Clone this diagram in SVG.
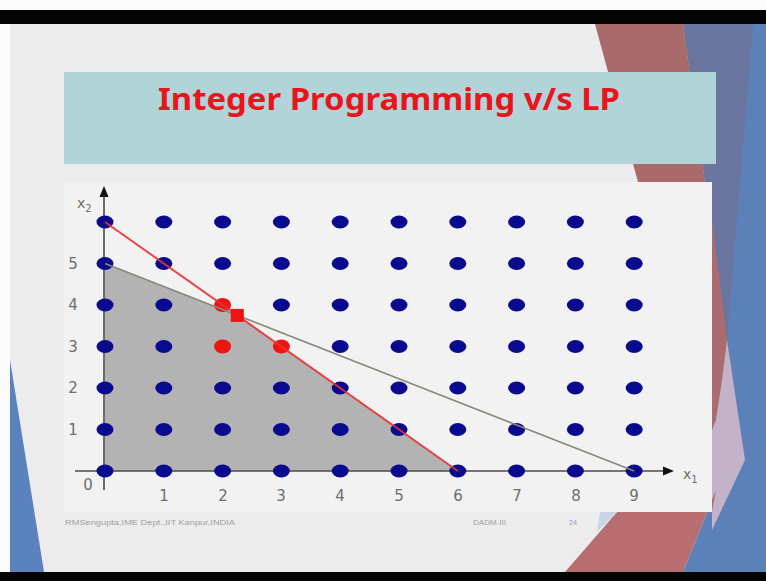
<svg xmlns="http://www.w3.org/2000/svg" width="766" height="581" viewBox="0 0 766 581">
<style>
.tick{font-family:"DejaVu Sans","Liberation Sans",sans-serif;font-size:15px;fill:#6e6e6e;text-anchor:middle}
.axlab{font-family:"DejaVu Sans","Liberation Sans",sans-serif;fill:#6e6e6e}
.foot{font-family:"Liberation Sans",Arial,sans-serif;font-size:7px;fill:#a0a0a0}
.title{font-family:"Noto Sans","Open Sans",sans-serif;font-weight:bold;font-size:31px;fill:#e8161c;text-anchor:middle}
.axis{stroke:#4a4a4a;stroke-width:1.6;fill:none}
</style>
<defs>
<ellipse id="dot" cx="0" cy="0" rx="8.5" ry="6.5" fill="#0a0a8e"/>
<ellipse id="rdot" cx="0" cy="0" rx="8.5" ry="7" fill="#ee1414"/>
</defs>
<rect x="0" y="0" width="766" height="581" fill="#fbfbfb"/>
<rect x="0" y="10" width="766" height="14" fill="#050505"/>
<rect x="10" y="24" width="756" height="548" fill="#ececec"/>
<rect x="0" y="572" width="766" height="9" fill="#050505"/>
<g id="decor">
<polygon points="683,24 766,24 766,572 683,572 712,500 712,182 705,182" fill="#5b81b8"/>
<polygon points="683,24 753,24 727,340 712,222 712,182 705,182" fill="#6a76a0"/>
<polygon points="595,24 683,24 705,182 638,182" fill="#a86a6a"/>
<polygon points="712,222 727,340 722,380 716,420 712,430" fill="#ad6b70"/>
<polygon points="727,340 745,460 712,530 712,430 716,420 722,380" fill="#c4b3c8"/>
<polygon points="565,572 617,512 712,512 716,490 683,572" fill="#b86e70"/>
<polygon points="600,512 617,512 597,532" fill="#c9d5e5"/>
<polygon points="10,360 10,572 44,572" fill="#5a82bc"/>
</g>
<rect x="64" y="182" width="648" height="330" fill="#f2f2f2"/>
<g id="title-box">
<rect x="64" y="72" width="652" height="92" fill="#b1d4d9"/>
<text class="title" x="389" y="110" textLength="462" lengthAdjust="spacingAndGlyphs">Integer Programming v/s LP</text>
</g>
<g id="feasible-region">
<polygon points="105,471 105,263.5 237.3,315.4 457.8,471" fill="#b3b3b3"/>
</g>
<g id="axes">
<line class="axis" x1="104" y1="490" x2="104" y2="194"/>
<polygon points="104,186 99.5,197 108.5,197" fill="#111"/>
<line class="axis" x1="75" y1="471" x2="664" y2="471"/>
<polygon points="674,471 663,466.5 663,475.5" fill="#111"/>
<text class="axlab" x="77" y="208" font-size="14">x<tspan font-size="10" dy="4">2</tspan></text>
<text class="axlab" x="683" y="479" font-size="14">x<tspan font-size="10" dy="4">1</tspan></text>
</g>
<g id="tick-labels">
<text class="tick" x="88" y="490">0</text>
<text class="tick" x="73" y="435">1</text>
<text class="tick" x="73" y="393">2</text>
<text class="tick" x="73" y="352">3</text>
<text class="tick" x="73" y="310">4</text>
<text class="tick" x="73" y="269">5</text>
<text class="tick" x="164" y="501">1</text>
<text class="tick" x="223" y="501">2</text>
<text class="tick" x="281" y="501">3</text>
<text class="tick" x="340" y="501">4</text>
<text class="tick" x="399" y="501">5</text>
<text class="tick" x="458" y="501">6</text>
<text class="tick" x="517" y="501">7</text>
<text class="tick" x="576" y="501">8</text>
<text class="tick" x="634" y="501">9</text>
</g>
<g id="lattice">
<use href="#dot" x="105" y="471"/><use href="#dot" x="163.8" y="471"/><use href="#dot" x="222.6" y="471"/><use href="#dot" x="281.4" y="471"/><use href="#dot" x="340.2" y="471"/><use href="#dot" x="399" y="471"/><use href="#dot" x="457.8" y="471"/><use href="#dot" x="516.6" y="471"/><use href="#dot" x="575.4" y="471"/><use href="#dot" x="634.2" y="471"/>
<use href="#dot" x="105" y="429.5"/><use href="#dot" x="163.8" y="429.5"/><use href="#dot" x="222.6" y="429.5"/><use href="#dot" x="281.4" y="429.5"/><use href="#dot" x="340.2" y="429.5"/><use href="#dot" x="399" y="429.5"/><use href="#dot" x="457.8" y="429.5"/><use href="#dot" x="516.6" y="429.5"/><use href="#dot" x="575.4" y="429.5"/><use href="#dot" x="634.2" y="429.5"/>
<use href="#dot" x="105" y="388"/><use href="#dot" x="163.8" y="388"/><use href="#dot" x="222.6" y="388"/><use href="#dot" x="281.4" y="388"/><use href="#dot" x="340.2" y="388"/><use href="#dot" x="399" y="388"/><use href="#dot" x="457.8" y="388"/><use href="#dot" x="516.6" y="388"/><use href="#dot" x="575.4" y="388"/><use href="#dot" x="634.2" y="388"/>
<use href="#dot" x="105" y="346.5"/><use href="#dot" x="163.8" y="346.5"/><use href="#rdot" x="222.6" y="346.5"/><use href="#rdot" x="281.4" y="346.5"/><use href="#dot" x="340.2" y="346.5"/><use href="#dot" x="399" y="346.5"/><use href="#dot" x="457.8" y="346.5"/><use href="#dot" x="516.6" y="346.5"/><use href="#dot" x="575.4" y="346.5"/><use href="#dot" x="634.2" y="346.5"/>
<use href="#dot" x="105" y="305"/><use href="#dot" x="163.8" y="305"/><use href="#rdot" x="222.6" y="305"/><use href="#dot" x="281.4" y="305"/><use href="#dot" x="340.2" y="305"/><use href="#dot" x="399" y="305"/><use href="#dot" x="457.8" y="305"/><use href="#dot" x="516.6" y="305"/><use href="#dot" x="575.4" y="305"/><use href="#dot" x="634.2" y="305"/>
<use href="#dot" x="105" y="263.5"/><use href="#dot" x="163.8" y="263.5"/><use href="#dot" x="222.6" y="263.5"/><use href="#dot" x="281.4" y="263.5"/><use href="#dot" x="340.2" y="263.5"/><use href="#dot" x="399" y="263.5"/><use href="#dot" x="457.8" y="263.5"/><use href="#dot" x="516.6" y="263.5"/><use href="#dot" x="575.4" y="263.5"/><use href="#dot" x="634.2" y="263.5"/>
<use href="#dot" x="105" y="222"/><use href="#dot" x="163.8" y="222"/><use href="#dot" x="222.6" y="222"/><use href="#dot" x="281.4" y="222"/><use href="#dot" x="340.2" y="222"/><use href="#dot" x="399" y="222"/><use href="#dot" x="457.8" y="222"/><use href="#dot" x="516.6" y="222"/><use href="#dot" x="575.4" y="222"/><use href="#dot" x="634.2" y="222"/>
</g>
<g id="connectors">
<line x1="105" y1="263.5" x2="634.2" y2="471" stroke="#858a7a" stroke-width="1.6"/>
<line x1="105" y1="222" x2="457.8" y2="471" stroke="#e83232" stroke-width="2" stroke-opacity="0.9"/>
</g>
<g id="lp-optimum">
<rect x="230.8" y="308.9" width="13" height="13" fill="#ee1414"/>
</g>
<g id="footer">
<text class="foot" x="65" y="525" textLength="170" lengthAdjust="spacingAndGlyphs">RMSengupta,IME Dept.,IIT Kanpur,INDIA</text>
<text class="foot" x="473" y="525" textLength="33" lengthAdjust="spacingAndGlyphs">DADM-III</text>
<text class="foot" x="569" y="525" style="fill:#8a9ccc">24</text>
</g>
</svg>
